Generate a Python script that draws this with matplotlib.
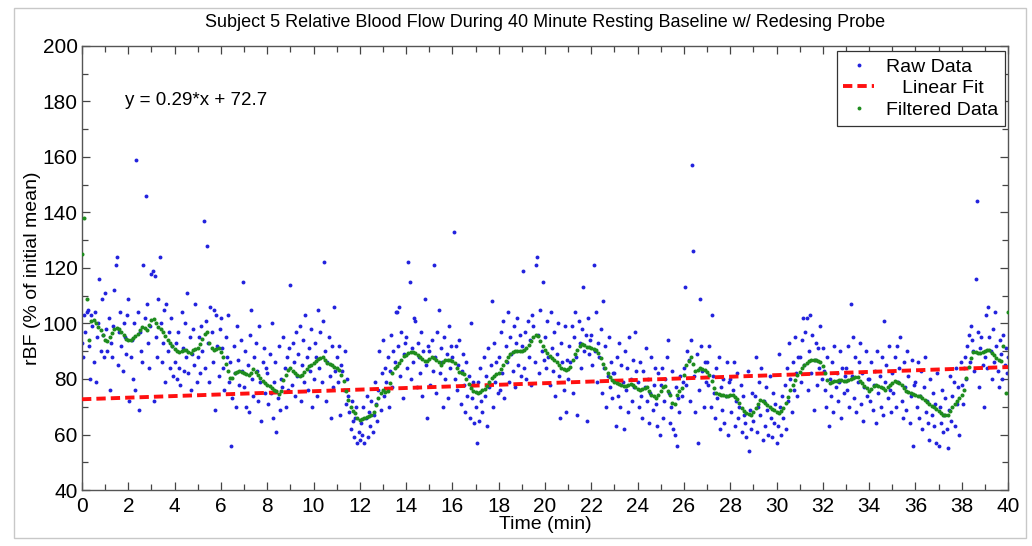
import numpy as np
import matplotlib
matplotlib.use("Agg")
import matplotlib.pyplot as plt
from matplotlib.lines import Line2D
from matplotlib.patches import Rectangle

plt.rcParams['font.family'] = ['Liberation Sans', 'DejaVu Sans']

title = "Subject 5 Relative Blood Flow During 40 Minute Resting Baseline w/ Redesing Probe"
xlabel = "Time (min)"
ylabel = "rBF (% of initial mean)"
fit_text = "y = 0.29*x + 72.7"
legend_labels = ["Raw Data", "   Linear Fit", "Filtered Data"]

raw_step = 0.05   # minutes between raw samples
filt_step = 0.1   # minutes between filtered samples

raw_rows = [
    [93, 88, 103, 97, 104, 105, 92, 80, 103, 99, 86, 104, 79, 95, 100, 116, 90, 109, 96, 88],
    [111, 98, 90, 102, 76, 93, 88, 99, 112, 121, 124, 85, 97, 104, 92, 83, 100, 95, 89, 103],
    [109, 72, 88, 94, 80, 100, 76, 159, 104, 69, 97, 90, 86, 121, 102, 146, 107, 93, 84, 99],
    [118, 119, 72, 117, 95, 88, 109, 124, 100, 86, 93, 105, 79, 107, 90, 97, 84, 102, 92, 81],
    [86, 93, 80, 97, 84, 78, 104, 91, 83, 100, 88, 111, 82, 95, 76, 89, 98, 85, 107, 79],
    [88, 95, 82, 99, 90, 137, 84, 101, 128, 93, 79, 106, 97, 86, 105, 69, 103, 92, 81, 98],
    [102, 91, 84, 76, 95, 88, 103, 79, 86, 56, 73, 92, 82, 70, 99, 87, 78, 94, 83, 115],
    [77, 90, 70, 85, 68, 96, 105, 80, 74, 88, 93, 83, 72, 99, 79, 65, 86, 91, 75, 84],
    [82, 71, 89, 75, 100, 66, 79, 86, 61, 73, 92, 69, 80, 77, 95, 84, 70, 88, 76, 91],
    [114, 78, 93, 86, 74, 97, 81, 89, 99, 72, 85, 94, 79, 103, 88, 76, 91, 83, 98, 70],
    [80, 93, 88, 74, 105, 84, 97, 79, 101, 122, 90, 72, 86, 95, 81, 66, 92, 77, 106, 83],
    [88, 79, 92, 67, 85, 83, 76, 90, 71, 80, 74, 68, 62, 72, 65, 59, 66, 70, 57, 61],
    [58, 64, 60, 70, 57, 66, 74, 59, 68, 63, 72, 61, 67, 79, 71, 65, 76, 90, 69, 82],
    [94, 74, 84, 79, 88, 70, 83, 96, 77, 90, 86, 104, 104, 92, 106, 81, 97, 73, 89, 93],
    [95, 84, 122, 115, 80, 91, 86, 102, 101, 77, 93, 88, 82, 97, 74, 90, 109, 85, 66, 92],
    [90, 78, 94, 83, 121, 88, 75, 97, 105, 82, 91, 86, 70, 95, 80, 89, 73, 99, 84, 92],
    [88, 133, 80, 92, 76, 85, 94, 71, 83, 89, 78, 68, 86, 74, 81, 66, 100, 73, 79, 64],
    [70, 57, 79, 65, 84, 72, 68, 88, 74, 81, 63, 91, 77, 85, 108, 70, 93, 79, 86, 75],
    [88, 76, 97, 82, 101, 73, 92, 86, 104, 79, 95, 89, 83, 99, 77, 93, 102, 85, 96, 81],
    [92, 119, 84, 97, 80, 101, 88, 94, 78, 103, 99, 86, 121, 124, 96, 82, 105, 90, 115, 87],
    [95, 84, 101, 88, 78, 104, 91, 83, 97, 74, 89, 100, 81, 66, 93, 86, 76, 99, 68, 87],
    [80, 92, 86, 99, 75, 95, 104, 88, 67, 101, 93, 84, 98, 113, 90, 96, 65, 102, 89, 94],
    [96, 85, 121, 90, 104, 79, 93, 88, 98, 75, 108, 84, 92, 70, 81, 95, 77, 86, 73, 82],
    [82, 63, 88, 74, 93, 70, 85, 79, 62, 90, 76, 84, 68, 95, 80, 72, 87, 77, 97, 83],
    [79, 70, 86, 74, 66, 83, 77, 91, 72, 80, 64, 75, 88, 69, 78, 84, 71, 63, 82, 60],
    [78, 84, 66, 72, 80, 88, 94, 75, 64, 70, 83, 62, 60, 77, 56, 73, 68, 81, 74, 79],
    [84, 113, 78, 90, 87, 72, 94, 157, 126, 81, 68, 89, 57, 76, 109, 92, 83, 70, 86, 79],
    [86, 78, 92, 70, 103, 81, 75, 66, 84, 73, 88, 62, 77, 69, 80, 64, 74, 86, 60, 79],
    [80, 68, 76, 86, 63, 72, 82, 66, 70, 78, 61, 74, 67, 64, 59, 83, 54, 69, 62, 75],
    [65, 74, 88, 61, 70, 79, 67, 84, 58, 72, 63, 77, 69, 60, 81, 66, 59, 75, 64, 71],
    [57, 63, 89, 70, 60, 74, 66, 78, 62, 84, 72, 93, 80, 68, 86, 76, 95, 82, 74, 88],
    [88, 79, 94, 102, 85, 97, 102, 76, 90, 103, 82, 96, 69, 87, 93, 78, 91, 84, 99, 80],
    [91, 83, 76, 70, 88, 63, 80, 74, 86, 68, 92, 77, 82, 72, 79, 90, 66, 84, 75, 81],
    [84, 76, 92, 70, 107, 81, 95, 73, 88, 68, 79, 86, 93, 71, 82, 65, 77, 90, 74, 80],
    [80, 72, 86, 69, 78, 83, 64, 90, 75, 81, 70, 88, 67, 101, 79, 85, 73, 92, 76, 68],
    [82, 75, 88, 70, 92, 79, 84, 95, 72, 66, 86, 77, 69, 90, 81, 64, 74, 87, 56, 78],
    [79, 70, 86, 66, 74, 83, 62, 77, 88, 68, 72, 64, 58, 80, 67, 75, 63, 71, 57, 82],
    [56, 70, 64, 76, 61, 67, 73, 62, 55, 69, 81, 65, 74, 79, 63, 84, 71, 77, 60, 86],
    [78, 71, 84, 88, 80, 92, 96, 86, 99, 94, 90, 83, 116, 144, 97, 77, 91, 95, 85, 70],
    [88, 103, 84, 106, 95, 90, 80, 98, 86, 104, 92, 83, 77, 94, 89, 80, 96, 85, 91, 82],
    [88],
]

filt_rows = [
    [125, 138, 109, 94, 101, 101.3, 100, 98.6, 97.5, 95.8],
    [94.1, 93.8, 95, 96.5, 98, 98.3, 98, 97, 95.8, 94.3],
    [94, 94.2, 94.8, 95.5, 96.3, 97.5, 98.6, 98.5, 97.7, 99.5],
    [101.3, 101.5, 100, 98.8, 98, 96.8, 95.5, 94.2, 93, 92],
    [90.7, 90.2, 89.9, 90.2, 90.6, 90.5, 89.8, 89.5, 90.4, 90.8],
    [91.1, 92.5, 94.5, 96.3, 97, 93, 91, 90.5, 90.8, 91],
    [89.8, 88.1, 85.5, 82.8, 80.5, 80.5, 82.3, 82.7, 83, 82.6],
    [82.2, 81.8, 81.5, 82.3, 83.5, 82.6, 81.6, 80.5, 79.3, 78.6],
    [78, 77.4, 76.8, 76.2, 75.5, 74.6, 75.8, 79.5, 81.5, 83.2],
    [83.8, 82.9, 82.2, 81.6, 81, 81.6, 82.5, 83.6, 84.6, 85.2],
    [85.7, 86.5, 87.2, 87.5, 87.8, 86.8, 85.6, 85.3, 85, 84.5],
    [83.9, 83.2, 81.6, 79.4, 75.8, 72.3, 69.8, 68.5, 67.7, 66],
    [65.3, 65.6, 65.9, 66.3, 66.6, 67.2, 68, 70.8, 73, 74.8],
    [76, 75.4, 75.6, 78.5, 82, 83.8, 84.6, 85.6, 87, 88.2],
    [88.8, 89.3, 89.6, 89.9, 89.5, 88.8, 88, 87.2, 86.6, 86.5],
    [87.3, 88.1, 87.6, 87, 86.1, 85.2, 86, 86.9, 87, 86.9],
    [86.4, 85.7, 83.8, 82.5, 82.2, 81.8, 80, 78.3, 76.8, 75.5],
    [75.3, 75.1, 75.4, 75.9, 76.5, 77.5, 78.8, 80.2, 81.2, 81.8],
    [82.3, 83.7, 85.1, 86.6, 88, 88.9, 89.7, 90, 90.1, 90.1],
    [90.2, 90.5, 91.2, 92.3, 93.8, 95.2, 95.8, 95.4, 93.8, 92],
    [90.4, 89.2, 88.2, 87.6, 87, 86.2, 85, 84.1, 83.6, 83.3],
    [83.6, 84.3, 87, 89, 90.6, 91.8, 92.6, 92.1, 91.7, 91.4],
    [91.1, 90.9, 90.6, 89.4, 87.5, 85.5, 83.8, 82.2, 80.8, 79.6],
    [79, 78.5, 78.2, 77.9, 77.6, 77.3, 77.7, 78.3, 78, 77.2],
    [76.5, 76.2, 76.3, 76.9, 77.2, 75.6, 74.3, 73.8, 73.2, 74.2],
    [75.8, 77.2, 77.6, 75.8, 74.3, 71.5, 71, 74.3, 75.6, 76.7],
    [81.5, 85.2, 86.4, 87.8, 85.5, 82.8, 83.4, 83.9, 83.6, 83.3],
    [82.4, 81.3, 79.2, 76.7, 75.1, 74.6, 74.4, 74.1, 73.8, 73.9],
    [74.2, 74.1, 73.6, 72.8, 71.2, 69.5, 68.4, 67.8, 67.3, 67.2],
    [68.2, 69.4, 71, 72.5, 72.1, 71.4, 70.5, 69.8, 69.3, 68.7],
    [68.1, 67.7, 68.4, 69.5, 71.5, 73.6, 76, 78, 79.8, 81.3],
    [82.7, 84, 84.9, 85.7, 86.4, 86.8, 86.9, 86.9, 86.6, 86.1],
    [84.8, 82.1, 79.5, 78.6, 78.9, 79.2, 79.4, 79.6, 79.6, 79.4],
    [79.1, 79.5, 80.1, 80.5, 80.8, 80.6, 79.2, 78.5, 77.5, 76.7],
    [75.7, 76.3, 77.4, 77.8, 77.5, 77.2, 76.6, 76.1, 77, 77.9],
    [78.5, 79.1, 78.8, 78.6, 77.8, 76.6, 75.8, 75.2, 74.8, 74.5],
    [74.2, 73.9, 73.7, 73.1, 72.6, 71.8, 70.9, 70.3, 69.8, 69.1],
    [68.3, 67.6, 67.2, 67, 67, 68.3, 69.8, 71, 72.1, 73.2],
    [74.3, 76.2, 80.2, 84.3, 87.4, 89.9, 89.6, 89.3, 89.5, 89.8],
    [90, 90.3, 90.3, 89.4, 88.5, 87.6, 86.9, 86.4, 92, 75],
    [104],
]

fit_x = [0, 40]
fit_y = [72.7, 84.3]

raw = np.concatenate([np.asarray(r, float) for r in raw_rows])
filt = np.concatenate([np.asarray(r, float) for r in filt_rows])
t_raw = np.arange(raw.size) * raw_step
t_filt = np.arange(filt.size) * filt_step

W, H = 1032, 546
fig = plt.figure(figsize=(W / 100, H / 100), dpi=100)
fig.patch.set_facecolor('white')
ax = fig.add_axes([82 / W, (H - 490) / H, 926 / W, 444 / H])

blue = '#2222dd'
green = '#1e8c1e'
red = '#ff1010'

ax.plot(t_raw, raw, linestyle='none', marker='o', ms=2.8, mew=0,
        color=blue, zorder=2)
ax.plot(fit_x, fit_y, color=red, lw=2.8, linestyle=(0, (2.4, 1.3)),
        zorder=3)
ax.plot(t_filt, filt, linestyle='none', marker='o', ms=2.9, mew=0,
        color=green, zorder=4)

ax.set_xlim(0, 40)
ax.set_ylim(40, 200)
ax.set_xticks(np.arange(0, 41, 2))
ax.set_xticks(np.arange(0, 41, 1), minor=True)
ax.set_yticks(np.arange(40, 201, 20))
ax.set_yticks(np.arange(40, 201, 10), minor=True)
ax.tick_params(which='both', direction='in', top=True, right=True,
               colors='#444444', labelcolor='black', labelsize=15)
ax.tick_params(axis='x', which='major', pad=5)
ax.tick_params(axis='y', which='major', pad=3)
ax.tick_params(which='major', length=6, width=0.9)
ax.tick_params(which='minor', length=4, width=0.9)
for s in ax.spines.values():
    s.set_color('#555555')
    s.set_linewidth(1.0)

ax.set_title(title, fontsize=13, pad=14)
ax.set_xlabel(xlabel, fontsize=14, labelpad=0)
ax.set_ylabel(ylabel, fontsize=14, labelpad=1)

ax.text(1.86, 180.2, fit_text, fontsize=13.5, ha='left', va='center')

handles = [
    Line2D([], [], linestyle='none', marker='o', ms=2.8, mew=0, color=blue),
    Line2D([], [], color=red, lw=2.8, linestyle=(0, (2.4, 1.3))),
    Line2D([], [], linestyle='none', marker='o', ms=2.8, mew=0, color=green),
]
leg = ax.legend(handles, legend_labels, loc='upper right',
                bbox_to_anchor=(0.997, 0.988), borderaxespad=0,
                fontsize=14, handlelength=1.6, handletextpad=0.6,
                labelspacing=0.2, borderpad=0.35, fancybox=False,
                framealpha=1, edgecolor='#333333')
leg.get_frame().set_linewidth(0.9)

fig.add_artist(Rectangle((14 / W, 8 / H), (1026 - 14) / W, (538 - 8) / H,
                         transform=fig.transFigure, fill=False,
                         edgecolor='#c8c8c8', lw=1.0))

fig.savefig('out.png', dpi=100, facecolor='white')
